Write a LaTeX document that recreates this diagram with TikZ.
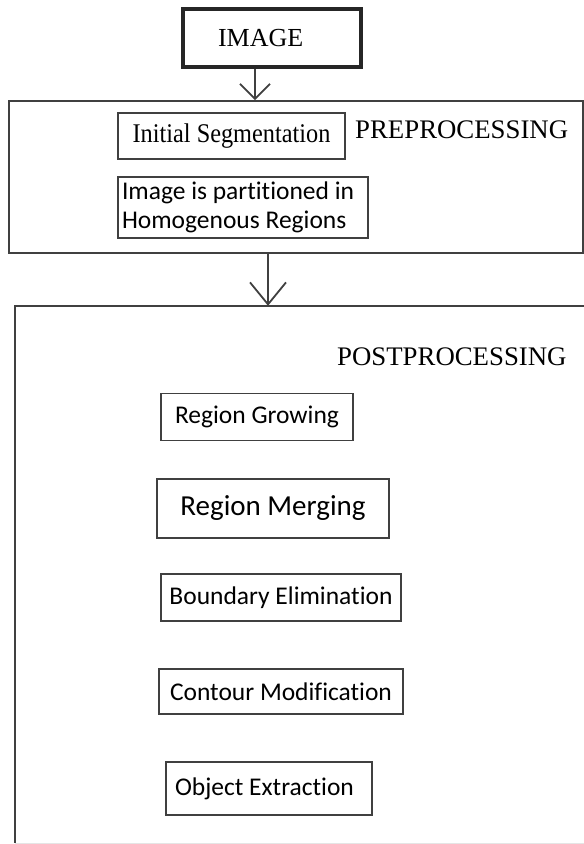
\documentclass[tikz,border=0pt]{standalone}
\usepackage{fontspec}
\setmainfont{Liberation Serif}
\newfontfamily\carl[Ligatures=NoCommon]{Carlito}
\newfontfamily\condserif[FakeStretch=0.9]{Liberation Serif}
\usetikzlibrary{arrows.meta}
\definecolor{linec}{HTML}{404040}
\begin{document}
\begin{tikzpicture}[x=1pt,y=-1pt,
  sbox/.style={draw=linec, line width=1.8pt, inner sep=0pt, text=black,
    font=\carl\fontsize{25.5}{29}\selectfont},
  bigbox/.style={draw=linec, line width=1.8pt, inner sep=0pt},
  arrA/.style={draw=linec, line width=1.8pt, -{Straight Barb[length=15pt,width=30pt]}},
  arrB/.style={draw=linec, line width=1.8pt, -{Straight Barb[length=22pt,width=36pt]}},
  stagelabel/.style={anchor=base west, inner sep=0pt, text=black, font=\fontsize{26.8}{30}\selectfont}]
\useasboundingbox (0,0) rectangle (584,844);
\fill[white] (0,0) rectangle (584,844);

% IMAGE
\node[draw=linec!60!black, line width=4pt, minimum height=58, text width=108,
      inner xsep=35, inner ysep=0, align=flush left, font=\fontsize{26}{30}\selectfont]
      (img) at (272,38) {IMAGE};

% Preprocessing frame
\node[bigbox, minimum width=574, minimum height=152] (pre) at (296,177) {};
\coordinate (a1) at (255,0);
\draw[arrA] (a1 |- img.south) -- (a1 |- pre.north);

\node[sbox, minimum width=227, minimum height=46,
      font=\condserif\fontsize{27}{30}\selectfont] (init) at (231.5,136) {Initial Segmentation};
\node[stagelabel] (prelabel) at (355,138) {PREPROCESSING};
\node[sbox, text width=242, inner xsep=4, align=flush left, minimum height=61]
      (part) at (243,207.5) {Image is partitioned in\\Homogenous Regions};

% Postprocessing frame (open at right and bottom)
\node[inner sep=0pt, minimum width=580, minimum height=537] (post) at (305,574.5) {};
\draw[linec, line width=1.8pt] (post.north east) -- (post.north west) -- (post.south west);
\draw[gray!20, line width=1pt] (post.south west) -- (post.south east);
\coordinate (a2) at (268,0);
\draw[arrB] (a2 |- pre.south) -- (a2 |- post.north);

\node[stagelabel] (postlabel) at (337,365) {POSTPROCESSING};

\node[sbox, minimum width=192, minimum height=47] (grow) at (257,417) {Region Growing};
\node[sbox, minimum width=232, minimum height=59, font=\carl\fontsize{29}{32}\selectfont]
      (merge) at (273,508.5) {Region Merging};
\node[sbox, minimum width=240, minimum height=47] (bound) at (281,597.5) {Boundary Elimination};
\node[sbox, minimum width=244, minimum height=45] (contour) at (281,691.5) {Contour Modification};
\node[sbox, text width=188, inner xsep=9, align=flush left, minimum height=53]
      (obj) at (269,788.5) {Object Extraction};
\end{tikzpicture}
\end{document}
